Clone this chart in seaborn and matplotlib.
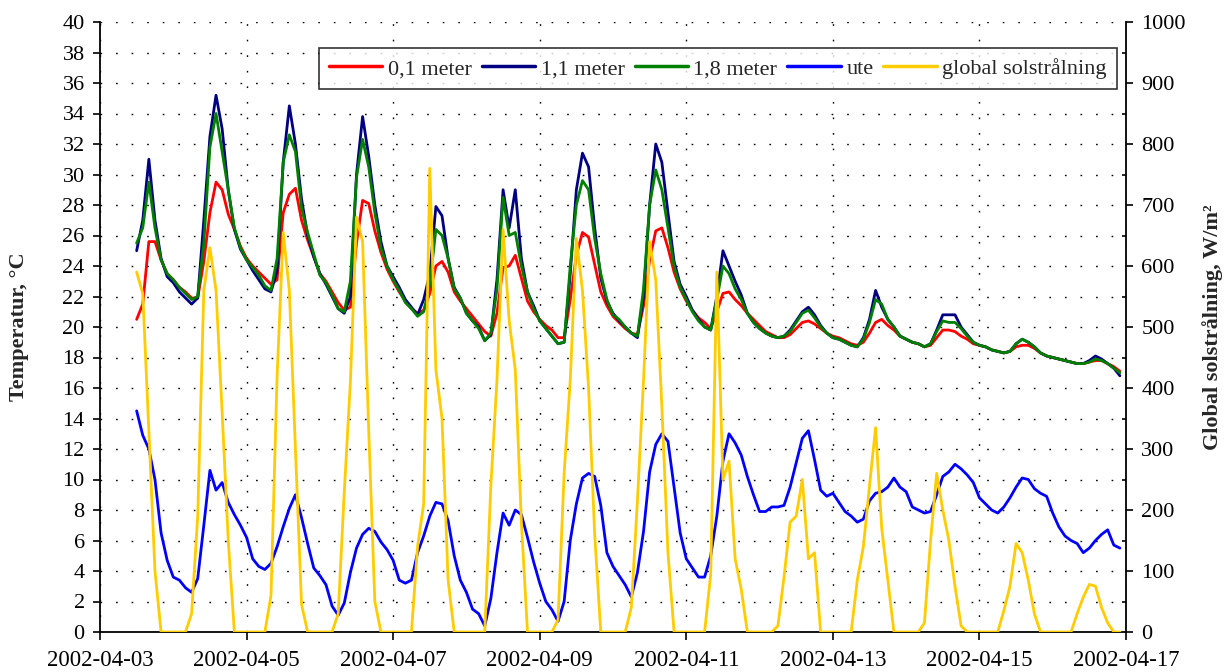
import numpy as np
import pandas as pd
import matplotlib
matplotlib.use("Agg")
import matplotlib.pyplot as plt
import matplotlib.dates as mdates
from matplotlib.ticker import MultipleLocator, FixedLocator
import seaborn as sns

# ---------------- data (2-hour readings, 2002-04-03 12:00 -> 2002-04-16 22:00) ----------------
start_time = "2002-04-03 12:00"

t_01m = [20.5, 21.5, 25.6, 25.6, 24.4, 23.5,
         23.1, 22.6, 22.3, 21.9, 21.9, 24.3, 27.5, 29.5, 29.0, 27.4, 26.4, 25.3,
         24.5, 24.0, 23.6, 23.2, 22.8, 23.1, 27.5, 28.7, 29.1, 27.0, 25.7, 24.6,
         23.5, 23.0, 22.3, 21.6, 21.1, 21.3, 25.5, 28.3, 28.1, 26.3, 24.9, 23.8,
         23.0, 22.3, 21.7, 21.2, 20.9, 21.1, 22.2, 24.0, 24.3, 23.6, 22.3, 21.7,
         21.2, 20.7, 20.2, 19.7, 19.4, 20.9, 23.9, 24.0, 24.7, 23.2, 21.7, 21.0,
         20.5, 20.1, 19.8, 19.3, 19.3, 21.8, 24.7, 26.2, 25.9, 24.1, 22.3, 21.4,
         20.7, 20.3, 19.9, 19.6, 19.5, 21.4, 24.4, 26.3, 26.5, 25.2, 23.6, 22.5,
         21.7, 21.1, 20.6, 20.3, 19.9, 21.0, 22.2, 22.3, 21.8, 21.4, 20.9, 20.5,
         20.1, 19.7, 19.5, 19.3, 19.3, 19.5, 19.9, 20.3, 20.4, 20.2, 19.9, 19.6,
         19.4, 19.3, 19.1, 18.9, 18.8, 19.0, 19.6, 20.3, 20.5, 20.1, 19.8, 19.4,
         19.2, 19.0, 18.9, 18.7, 18.8, 19.3, 19.8, 19.8, 19.7, 19.4, 19.2, 18.9,
         18.8, 18.7, 18.5, 18.4, 18.3, 18.4, 18.7, 18.8, 18.8, 18.6, 18.3, 18.1,
         18.0, 17.9, 17.8, 17.7, 17.6, 17.6, 17.7, 17.8, 17.8, 17.6, 17.4, 17.1]

t_11m = [25.0, 27.0, 31.0, 27.0, 24.5, 23.3,
         22.9, 22.3, 21.9, 21.5, 21.9, 27.0, 32.5, 35.2, 33.0, 29.0, 26.4, 25.1,
         24.4, 23.7, 23.1, 22.5, 22.3, 23.7, 30.8, 34.5, 32.0, 28.4, 26.0, 24.6,
         23.5, 22.8, 22.0, 21.2, 20.9, 22.0, 30.0, 33.8, 31.2, 28.0, 25.6, 24.0,
         23.3, 22.6, 21.8, 21.3, 20.8, 21.8, 23.5, 27.9, 27.3, 24.5, 22.6, 21.9,
         20.9, 20.4, 20.0, 19.1, 19.5, 23.1, 29.0, 26.5, 29.0, 24.5, 22.3, 21.4,
         20.4, 19.9, 19.4, 18.9, 19.0, 23.5, 29.0, 31.4, 30.5, 26.5, 23.2, 21.7,
         20.9, 20.4, 20.0, 19.6, 19.3, 22.0, 28.0, 32.0, 30.8, 27.5, 24.3, 22.8,
         22.0, 21.1, 20.5, 20.0, 19.8, 22.0, 25.0, 24.0, 23.0, 22.1, 20.9, 20.3,
         19.9, 19.6, 19.4, 19.3, 19.4, 19.8, 20.4, 21.0, 21.3, 20.8, 20.1, 19.6,
         19.3, 19.2, 19.0, 18.8, 18.7, 19.3, 20.5, 22.4, 21.3, 20.5, 20.0, 19.4,
         19.2, 19.0, 18.9, 18.7, 18.9, 19.8, 20.8, 20.8, 20.8, 20.0, 19.5, 19.0,
         18.8, 18.7, 18.5, 18.4, 18.3, 18.4, 18.9, 19.2, 19.0, 18.7, 18.3, 18.1,
         18.0, 17.9, 17.8, 17.7, 17.6, 17.6, 17.8, 18.1, 17.9, 17.6, 17.3, 16.8]

t_18m = [25.5, 26.5, 29.5, 26.5, 24.4, 23.5,
         23.1, 22.6, 22.2, 21.8, 22.0, 25.5, 31.8, 34.0, 31.5, 29.0, 26.5, 25.2,
         24.4, 23.9, 23.4, 22.7, 22.4, 24.5, 30.8, 32.6, 31.5, 27.8, 26.2, 24.8,
         23.4, 22.9, 22.1, 21.2, 21.0, 23.0, 29.8, 32.3, 30.5, 27.5, 25.2, 24.0,
         23.1, 22.4, 21.6, 21.2, 20.7, 21.0, 22.8, 26.4, 26.0, 24.5, 22.5, 21.9,
         20.9, 20.4, 19.9, 19.1, 19.6, 22.5, 28.5, 26.0, 26.2, 24.0, 22.3, 21.2,
         20.4, 19.9, 19.4, 18.9, 19.0, 24.0, 28.0, 29.6, 29.0, 25.8, 23.5, 21.8,
         20.8, 20.5, 20.0, 19.6, 19.4, 22.5, 28.0, 30.3, 29.0, 26.5, 24.0, 22.6,
         21.8, 21.0, 20.4, 20.0, 19.8, 21.8, 24.0, 23.5, 22.5, 21.8, 20.9, 20.3,
         19.9, 19.6, 19.4, 19.3, 19.4, 19.7, 20.3, 20.9, 21.1, 20.6, 20.0, 19.6,
         19.3, 19.2, 19.0, 18.8, 18.7, 19.2, 20.3, 21.8, 21.5, 20.5, 20.0, 19.4,
         19.2, 19.0, 18.9, 18.7, 18.9, 19.7, 20.4, 20.3, 20.3, 19.9, 19.4, 19.0,
         18.8, 18.7, 18.5, 18.4, 18.3, 18.4, 18.9, 19.2, 19.0, 18.7, 18.3, 18.1,
         18.0, 17.9, 17.8, 17.7, 17.6, 17.6, 17.7, 17.9, 17.8, 17.6, 17.3, 17.0]

t_ute = [14.5, 12.9, 12.0, 10.0, 6.5, 4.7,
         3.6, 3.4, 2.9, 2.6, 3.5, 7.0, 10.6, 9.3, 9.8, 8.5, 7.7, 7.0,
         6.2, 4.8, 4.3, 4.1, 4.5, 5.6, 6.9, 8.1, 9.0, 7.5, 5.8, 4.2,
         3.7, 3.1, 1.7, 1.1, 1.9, 3.9, 5.5, 6.4, 6.8, 6.6, 5.9, 5.4,
         4.7, 3.4, 3.2, 3.4, 5.2, 6.3, 7.6, 8.5, 8.4, 7.3, 5.0, 3.4,
         2.6, 1.5, 1.2, 0.4, 2.2, 5.2, 7.8, 7.0, 8.0, 7.7, 6.2, 4.6,
         3.2, 2.0, 1.45, 0.7, 2.0, 6.0, 8.4, 10.1, 10.4, 10.2, 8.3, 5.2,
         4.3, 3.7, 3.1, 2.3, 3.9, 6.6, 10.5, 12.3, 13.0, 12.5, 9.5, 6.5,
         4.8, 4.2, 3.6, 3.6, 5.0, 7.6, 11.2, 13.0, 12.4, 11.6, 10.2, 9.0,
         7.9, 7.9, 8.2, 8.2, 8.3, 9.5, 11.1, 12.7, 13.2, 11.3, 9.3, 8.9,
         9.1, 8.5, 7.9, 7.6, 7.2, 7.4, 8.6, 9.1, 9.2, 9.5, 10.1, 9.5,
         9.2, 8.2, 8.0, 7.8, 7.9, 9.0, 10.2, 10.5, 11.0, 10.7, 10.3, 9.8,
         8.8, 8.4, 8.0, 7.8, 8.2, 8.8, 9.5, 10.1, 10.0, 9.4, 9.1, 8.9,
         7.8, 6.9, 6.3, 6.0, 5.8, 5.2, 5.5, 6.0, 6.4, 6.7, 5.7, 5.5]

sol = [590, 555, 330, 100, 0, 0,
       0, 0, 0, 30, 190, 560, 630, 560, 360, 150, 0, 0,
       0, 0, 0, 0, 60, 420, 655, 560, 300, 45, 0, 0,
       0, 0, 0, 30, 230, 410, 680, 640, 330, 50, 0, 0,
       0, 0, 0, 0, 140, 210, 760, 430, 350, 85, 0, 0,
       0, 0, 0, 0, 240, 413, 660, 510, 430, 180, 0, 0,
       0, 0, 0, 20, 260, 413, 645, 560, 400, 160, 0, 0,
       0, 0, 0, 40, 215, 413, 640, 577, 370, 130, 0, 0,
       0, 0, 0, 0, 95, 590, 250, 280, 120, 70, 0, 0,
       0, 0, 0, 10, 90, 180, 190, 250, 120, 130, 0, 0,
       0, 0, 0, 0, 85, 140, 240, 335, 170, 85, 0, 0,
       0, 0, 0, 15, 150, 260, 200, 150, 75, 10, 0, 0,
       0, 0, 0, 0, 35, 75, 145, 130, 85, 30, 0, 0,
       0, 0, 0, 0, 30, 57, 78, 75, 40, 15, 0, 0]

temp_labels = ["0,1 meter", "1,1 meter", "1,8 meter", "ute"]
sol_label = "global solstrålning"
x_tick_dates = ["2002-04-03", "2002-04-05", "2002-04-07", "2002-04-09",
                "2002-04-11", "2002-04-13", "2002-04-15", "2002-04-17"]

# ---------------- styling ----------------
sns.set_style("white")
plt.rcParams["font.family"] = ["Liberation Serif", "DejaVu Serif"]
plt.rcParams["font.size"] = 16

times = pd.date_range(start_time, periods=len(t_01m), freq="2h")
df = pd.DataFrame({"time": times, temp_labels[0]: t_01m, temp_labels[1]: t_11m,
                   temp_labels[2]: t_18m, temp_labels[3]: t_ute, sol_label: sol})

colors = {temp_labels[0]: "#FF0000", temp_labels[1]: "#000080",
          temp_labels[2]: "#008000", temp_labels[3]: "#0000FF", sol_label: "#FFCC00"}

fig = plt.figure(figsize=(12.26, 6.72), dpi=100)
ax = fig.add_axes([100 / 1226, 40 / 672, 1026 / 1226, 610 / 672])
ax2 = ax.twinx()

lw = 2.0
for name in temp_labels:
    sns.lineplot(data=df, x="time", y=name, ax=ax, color=colors[name], linewidth=lw,
                 label=name, legend=False)
sns.lineplot(data=df, x="time", y=sol_label, ax=ax2, color=colors[sol_label], linewidth=lw,
             label=sol_label, legend=False)

# axes limits / ticks
xt = mdates.date2num(pd.to_datetime(x_tick_dates))
ax.set_xlim(xt[0], xt[-1])
ax.xaxis.set_major_locator(FixedLocator(xt))
ax.xaxis.set_major_formatter(mdates.DateFormatter("%Y-%m-%d"))
ax.set_ylim(0, 40)
ax.yaxis.set_major_locator(MultipleLocator(2))
ax2.set_ylim(0, 1000)
ax2.yaxis.set_major_locator(MultipleLocator(100))
ax2.yaxis.set_minor_locator(MultipleLocator(50))

ax.set_xlabel("")
ax.set_ylabel("Temperatur, °C", fontweight="bold", fontsize=16, labelpad=24)
ax2.set_ylabel("Global solstrålning, W/m²", fontweight="bold", fontsize=16, labelpad=12)

# grid: dotted
ax.grid(True, axis="both", which="major", color="black", linestyle=(0, (1.2, 10)), linewidth=1.0)
ax.set_axisbelow(True)

for a in (ax, ax2):
    a.spines["top"].set_visible(False)
    for s in ("left", "right", "bottom"):
        a.spines[s].set_color("black")
        a.spines[s].set_linewidth(1.3)
ax.spines["right"].set_visible(False)
ax2.spines["left"].set_visible(False)
ax2.spines["bottom"].set_visible(False)

ax.tick_params(axis="y", which="major", direction="out", length=5, width=1.2, colors="black",
               labelsize=16, pad=6, left=True)
ax.tick_params(axis="x", which="major", direction="out", length=6, width=1.2, colors="black",
               labelsize=16.5, pad=7, bottom=True)
ax2.tick_params(axis="y", which="major", direction="out", length=5, width=1.2, colors="black",
                labelsize=16, pad=6, right=True)
ax2.tick_params(axis="y", which="minor", direction="in", length=3, width=1.2, colors="black", right=True)

# legend
h1, l1 = ax.get_legend_handles_labels()
h2, l2 = ax2.get_legend_handles_labels()
leg = ax2.legend(h1 + h2, l1 + l2, loc="upper right", bbox_to_anchor=(0.991, 0.957),
                 ncol=5, frameon=True, fancybox=False, fontsize=16, handlelength=2.4,
                 handletextpad=0.25, columnspacing=0.45, borderpad=0.45,
                 borderaxespad=0.0)
leg.get_frame().set_edgecolor("black")
leg.get_frame().set_linewidth(1.2)
for line in leg.get_lines():
    line.set_linewidth(2.5)

fig.savefig("out.png", dpi=100)
